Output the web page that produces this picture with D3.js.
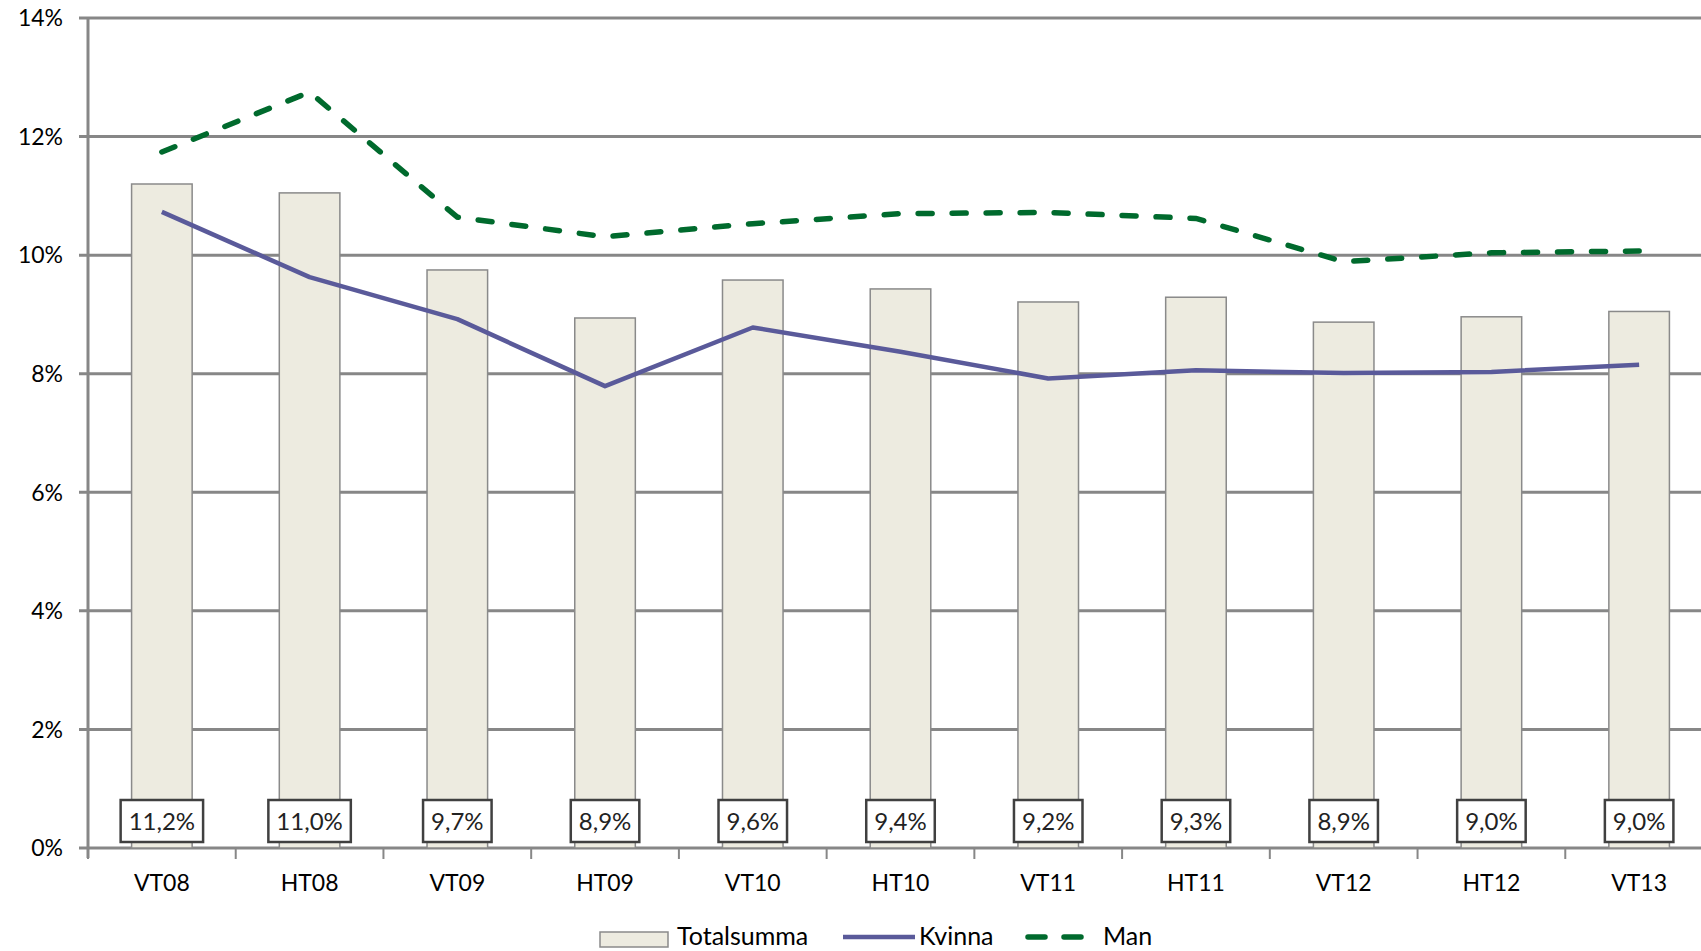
<html lang="sv">
<head>
<meta charset="UTF-8">
<title>Totalsumma, Kvinna, Man</title>
<script src="https://d3js.org/d3.v7.min.js"></script>
<style>
  body { margin: 0; background: #fff; font-family: Lato, "Open Sans", sans-serif; }
  svg text { fill: #000; }
</style>
</head>
<body>
<div id="chart"></div>
<script>
// data
const terms = ["VT08", "HT08", "VT09", "HT09", "VT10", "HT10", "VT11", "HT11", "VT12", "HT12", "VT13"];
const totalsumma = [11.2, 11.05, 9.75, 8.94, 9.58, 9.43, 9.21, 9.29, 8.87, 8.96, 9.05];
const totalLabels = ["11,2%", "11,0%", "9,7%", "8,9%", "9,6%", "9,4%", "9,2%", "9,3%", "8,9%", "9,0%", "9,0%"];
const kvinna = [10.73, 9.63, 8.92, 7.79, 8.78, 8.37, 7.92, 8.06, 8.01, 8.03, 8.15];
const man = [11.74, 12.75, 10.64, 10.31, 10.53, 10.7, 10.72, 10.62, 9.89, 10.04, 10.07];
const yTicks = [0, 2, 4, 6, 8, 10, 12, 14];

const W = 1701, H = 951;
const mLeft = 88, mRight = 1713, mTop = 18, mBottom = 848;

const svg = d3.select("#chart").append("svg")
  .attr("width", W)
  .attr("height", H);

const x = d3.scaleBand().domain(terms).range([mLeft, mRight]).paddingInner(0).paddingOuter(0);
const y = d3.scaleLinear().domain([0, 14]).range([mBottom, mTop]);

// gridlines
svg.append("g")
  .selectAll("line")
  .data(yTicks)
  .join("line")
  .attr("x1", mLeft - 9).attr("x2", W)
  .attr("y1", d => y(d)).attr("y2", d => y(d))
  .attr("stroke", "#878787")
  .attr("stroke-width", 3);

// y labels
svg.append("g")
  .selectAll("text")
  .data(yTicks)
  .join("text")
  .attr("x", 63)
  .attr("y", d => y(d))
  .attr("dy", "0.36em")
  .attr("text-anchor", "end")
  .style("font-size", "23px")
  .text(d => d + "%");

// bars
const bw = x.bandwidth() * 0.41;
svg.append("g")
  .selectAll("rect")
  .data(totalsumma)
  .join("rect")
  .attr("x", (d, i) => x(terms[i]) + x.bandwidth() / 2 - bw / 2)
  .attr("width", bw)
  .attr("y", d => y(d))
  .attr("height", d => y(0) - y(d))
  .attr("fill", "#EDEBE0")
  .attr("stroke", "#8A8A8A")
  .attr("stroke-width", 1.5);

// axes lines
svg.append("line")
  .attr("x1", mLeft).attr("x2", mLeft)
  .attr("y1", mTop).attr("y2", mBottom + 10)
  .attr("stroke", "#878787").attr("stroke-width", 3);

svg.append("g")
  .selectAll("line")
  .data(terms)
  .join("line")
  .attr("x1", d => x(d)).attr("x2", d => x(d))
  .attr("y1", mBottom).attr("y2", mBottom + 11)
  .attr("stroke", "#878787").attr("stroke-width", 2);

// x labels
svg.append("g")
  .selectAll("text")
  .data(terms)
  .join("text")
  .attr("x", d => x(d) + x.bandwidth() / 2)
  .attr("y", 883)
  .attr("dy", "0.36em")
  .attr("text-anchor", "middle")
  .style("font-size", "23px")
  .text(d => d);

// lines
const line = d3.line()
  .x((d, i) => x(terms[i]) + x.bandwidth() / 2)
  .y(d => y(d));

svg.append("path")
  .datum(kvinna)
  .attr("d", line)
  .attr("fill", "none")
  .attr("stroke", "#5A5A9A")
  .attr("stroke-width", 4.5)
  .attr("stroke-linejoin", "round");

svg.append("path")
  .datum(man)
  .attr("d", line)
  .attr("fill", "none")
  .attr("stroke", "#006A2D")
  .attr("stroke-width", 5.5)
  .attr("stroke-dasharray", "14,20")
  .attr("stroke-linecap", "round");

// data label boxes
const lab = svg.append("g")
  .selectAll("g")
  .data(totalLabels)
  .join("g")
  .attr("transform", (d, i) => `translate(${x(terms[i]) + x.bandwidth() / 2}, 821)`);

lab.append("text")
  .attr("text-anchor", "middle")
  .attr("dy", "0.36em")
  .style("font-size", "24px")
  .style("fill", "#222")
  .text(d => d);

lab.each(function () {
  const g = d3.select(this);
  const bb = g.select("text").node().getBBox();
  g.insert("rect", "text")
    .attr("x", bb.x - 8)
    .attr("y", -21)
    .attr("width", bb.width + 16)
    .attr("height", 42)
    .attr("fill", "#fff")
    .attr("stroke", "#404040")
    .attr("stroke-width", 2.5);
});

// legend
const leg = svg.append("g").style("font-size", "25px");
leg.append("rect")
  .attr("x", 600).attr("y", 932).attr("width", 68).attr("height", 15)
  .attr("fill", "#EDEBE0").attr("stroke", "#8A8A8A").attr("stroke-width", 1.5);
leg.append("text").attr("x", 677).attr("y", 945).text("Totalsumma");

leg.append("line")
  .attr("x1", 843).attr("x2", 915).attr("y1", 937).attr("y2", 937)
  .attr("stroke", "#5A5A9A").attr("stroke-width", 4.5);
leg.append("text").attr("x", 919).attr("y", 945).text("Kvinna");

leg.append("line")
  .attr("x1", 1028).attr("x2", 1081).attr("y1", 937).attr("y2", 937)
  .attr("stroke", "#006A2D").attr("stroke-width", 5.5)
  .attr("stroke-dasharray", "17,19").attr("stroke-linecap", "round");
leg.append("text").attr("x", 1103).attr("y", 945).text("Man");
</script>
</body>
</html>
